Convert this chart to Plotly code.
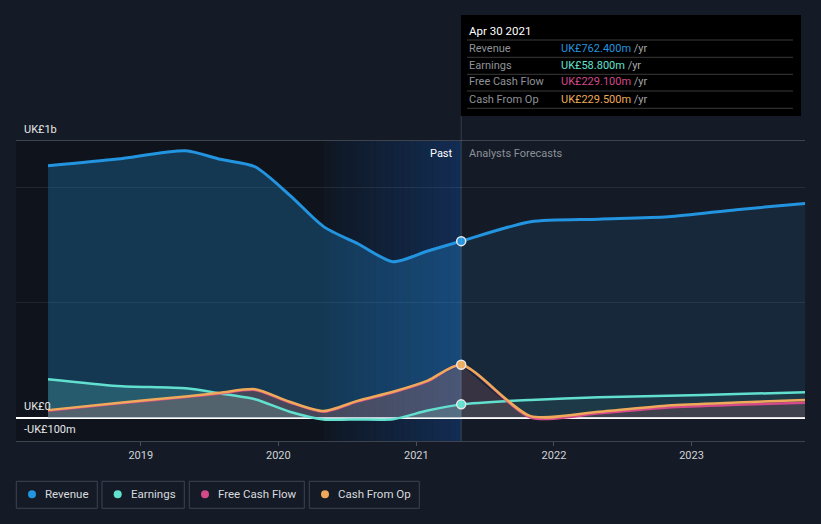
import plotly.graph_objects as go
import pandas as pd

# ---------------- data (UK£ millions) ----------------
past_dates = ['2018-04-30', '2018-10-31', '2019-04-30', '2019-07-31', '2019-10-31',
              '2020-01-31', '2020-04-30', '2020-07-31', '2020-10-31', '2021-01-31', '2021-04-30']
forecast_dates = ['2021-10-31', '2022-04-30', '2022-10-31', '2023-04-30', '2023-10-31']

revenue_past = [1087, 1116, 1152, 1115, 1083, 961, 825, 750, 674, 720, 762.4]
revenue_fc = [846, 857, 867, 898, 925]

earnings_past = [167, 138, 128, 106, 81, 27, -6, -6, -5, 32, 58.8]
earnings_fc = [78, 89, 96, 103, 111]

fcf_past = [31, 62, 90, 106, 121, 67, 27, 72, 110, 158, 229.1]
fcf_fc = [2, 20, 45, 57, 66]

cfo_past = [34, 65, 93, 109, 124, 70, 30, 75, 113, 161, 229.5]
cfo_fc = [8, 27, 54, 67, 78]

tick_years = ['2019', '2020', '2021', '2022', '2023']
series_names = ['Revenue', 'Earnings', 'Free Cash Flow', 'Cash From Op']
tooltip_date = 'Apr 30 2021'

# ---------------- styling ----------------
W, H = 821, 524
ML, MR, MT, MB = 16, 16, 141, 83
PW, PH = W - ML - MR, H - MT - MB
BG = '#151b26'
FONT = 'Roboto'
colors = {'Revenue': '#2394df', 'Earnings': '#62e0cf',
          'Free Cash Flow': '#d4498a', 'Cash From Op': '#eeaa5a'}
fill_past = {'Revenue': 'rgba(35,148,223,0.28)', 'Earnings': 'rgba(98,224,207,0.22)',
             'Free Cash Flow': 'rgba(212,73,138,0.12)', 'Cash From Op': 'rgba(238,170,90,0.14)'}
fill_fc = {'Revenue': 'rgba(35,148,223,0.11)', 'Earnings': 'rgba(98,224,207,0.09)',
           'Free Cash Flow': 'rgba(212,73,138,0.10)', 'Cash From Op': 'rgba(238,170,90,0.08)'}
widths = {'Revenue': 3, 'Earnings': 2.5, 'Free Cash Flow': 2.5, 'Cash From Op': 2.5}
SMOOTH = 0.7


def px(x):
    return (x - ML) / PW


def py(y):
    return (H - MB - y) / PH


data = {
    'Revenue': (revenue_past, revenue_fc),
    'Earnings': (earnings_past, earnings_fc),
    'Free Cash Flow': (fcf_past, fcf_fc),
    'Cash From Op': (cfo_past, cfo_fc),
}
all_dates = past_dates + forecast_dates

fig = go.Figure()
# fills (past and forecast separately)
for name in series_names:
    p, f = data[name]
    fig.add_trace(go.Scatter(
        x=past_dates, y=p, mode='lines', fill='tozeroy', fillcolor=fill_past[name],
        line=dict(width=0, shape='spline', smoothing=SMOOTH),
        hoverinfo='skip', showlegend=False))
    fig.add_trace(go.Scatter(
        x=[past_dates[-1]] + forecast_dates, y=[p[-1]] + f, mode='lines', fill='tozeroy',
        fillcolor=fill_fc[name], line=dict(width=0, shape='spline', smoothing=SMOOTH),
        hoverinfo='skip', showlegend=False))
# continuous lines
for name in series_names:
    p, f = data[name]
    fig.add_trace(go.Scatter(
        x=all_dates, y=p + f, mode='lines',
        line=dict(color=colors[name], width=widths[name], shape='spline', smoothing=SMOOTH),
        hoverinfo='skip', showlegend=False))

# markers at current point
for name in ['Revenue', 'Earnings', 'Cash From Op']:
    p, _ = data[name]
    fig.add_trace(go.Scatter(
        x=[past_dates[-1]], y=[p[-1]], mode='markers',
        marker=dict(size=9, color=colors[name], line=dict(color='#e8e8e8', width=1.5)),
        hoverinfo='skip', showlegend=False))

shapes = []
# dark overlay for past area
shapes.append(dict(type='rect', xref='paper', yref='paper', x0=0, x1=px(461), y0=0, y1=1,
                   fillcolor='rgba(0,0,0,0.25)', line=dict(width=0), layer='below'))
# blue gradient over last year of the past
edges = pd.date_range('2020-04-30', '2021-04-30', periods=25)
n = len(edges) - 1
for i in range(n):
    a = 0.04 + 0.24 * (i / (n - 1))
    shapes.append(dict(type='rect', xref='x', yref='paper', x0=edges[i], x1=edges[i + 1],
                       y0=0, y1=1, fillcolor=f'rgba(30,110,225,{a:.3f})',
                       line=dict(width=0), layer='below'))
# vertical "now" line
shapes.append(dict(type='line', xref='x', yref='paper', x0=past_dates[-1], x1=past_dates[-1],
                   y0=0, y1=py(116), line=dict(color='rgba(255,255,255,0.15)', width=1)))

# tooltip box
shapes.append(dict(type='rect', xref='paper', yref='paper', x0=px(461), x1=px(801),
                   y0=py(116), y1=py(15), fillcolor='#000000', line=dict(width=0)))
for yy in [40, 57.3, 74.3, 91, 108.3]:
    shapes.append(dict(type='line', xref='paper', yref='paper', x0=px(467), x1=px(793),
                       y0=py(yy), y1=py(yy), line=dict(color='#3a3a3a', width=1)))

annotations = []


def txt(x, y, s, size=11, color='#e6e6e6', xanchor='left'):
    annotations.append(dict(xref='paper', yref='paper', x=px(x), y=py(y), text=s,
                            showarrow=False, xanchor=xanchor, yanchor='middle', borderpad=0,
                            font=dict(family=FONT, size=size, color=color)))


txt(468, 31, tooltip_date, 11.5, '#ffffff')
rows_y = [48.3, 65.3, 82, 99]
for name, yy in zip(series_names, rows_y):
    p, _ = data[name]
    txt(468, yy, name, 11, '#8f9399')
    txt(560, yy, f"<span style='color:{colors[name]}'>UK£{p[-1]:.3f}m</span>"
                 f" <span style='color:#a3a6ab'>/yr</span>", 11)

# axis labels
txt(23, 129, 'UK£1b', 11, '#e6e6e6')
txt(23, 406, 'UK£0', 11, '#e6e6e6')
txt(23, 429, '-UK£100m', 11, '#e6e6e6')
txt(454, 153, 'Past', 11, '#ffffff', 'right')
txt(468, 153, 'Analysts Forecasts', 11, '#8b9099')

# legend
boxes = [(16.3, 97.3), (102, 184.3), (189.3, 304.3), (309.3, 419.3)]
dots = [32, 117.7, 205, 325]
texts = [43.5, 129.5, 216.5, 336.5]
for name, (x0, x1), dx, tx in zip(series_names, boxes, dots, texts):
    shapes.append(dict(type='rect', xref='paper', yref='paper', x0=px(x0), x1=px(x1),
                       y0=py(508.3), y1=py(481.3), line=dict(color='#3d4350', width=1)))
    shapes.append(dict(type='circle', xref='paper', yref='paper', x0=px(dx - 4), x1=px(dx + 4),
                       y0=py(494.3 + 4), y1=py(494.3 - 4), fillcolor=colors[name],
                       line=dict(width=0)))
    txt(tx, 494.3, name, 11.5, '#d8dadf')

fig.update_layout(
    width=W, height=H,
    margin=dict(l=ML, r=MR, t=MT, b=MB),
    paper_bgcolor=BG, plot_bgcolor=BG,
    font=dict(family=FONT, color='#d0d4d9'),
    showlegend=False,
    shapes=shapes, annotations=annotations,
    xaxis=dict(type='date', range=['2018-02-04', '2023-10-29'],
               tickvals=[f'{y}-01-01' for y in tick_years], ticktext=tick_years,
               tickfont=dict(family=FONT, size=11, color='#cfd3d8'),
               ticks='outside', ticklen=4, tickcolor='#4a505a',
               showgrid=False, showline=True, mirror=True, linecolor='#3e444e', linewidth=1,
               zeroline=False, fixedrange=True),
    yaxis=dict(range=[-99.1, 1194], tickvals=[0, 500, 994], showticklabels=False,
               showgrid=True, gridcolor='rgba(255,255,255,0.08)', gridwidth=1,
               zeroline=True, zerolinecolor='#ffffff', zerolinewidth=1.5,
               showline=False, fixedrange=True),
)

fig.write_html('out.html', config={'displayModeBar': False},
               post_script="document.body.style.margin='0';document.body.style.padding='0';"
                           "document.body.style.background='" + BG + "';")
